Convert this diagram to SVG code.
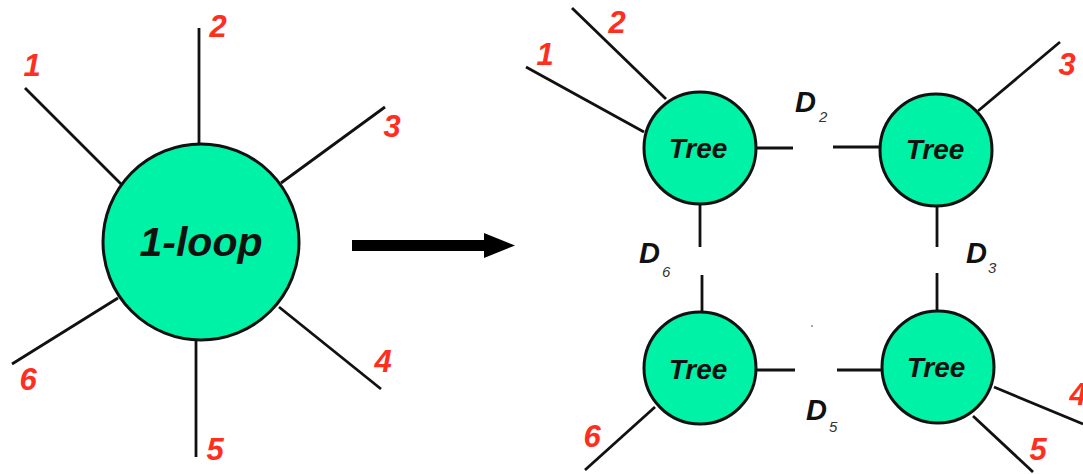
<svg xmlns="http://www.w3.org/2000/svg" width="1083" height="474" viewBox="0 0 1083 474">
<style>
.node{fill:#00F2A6;stroke:#111;stroke-width:3}
.edge{stroke:#111;stroke-width:2.8;fill:none;stroke-linecap:butt}
.lbl{font-family:"Liberation Sans",Arial,sans-serif;font-weight:bold;font-style:italic;fill:#FF2E1F;font-size:31px;text-anchor:middle}
.ntxt{font-family:"Liberation Sans",Arial,sans-serif;font-weight:bold;font-style:italic;fill:#111;text-anchor:middle}
.d{font-family:"Liberation Sans",Arial,sans-serif;font-weight:bold;font-style:italic;fill:#111;font-size:29px}
.sub{font-family:"Liberation Sans",Arial,sans-serif;font-style:italic;fill:#333;font-size:15px}
</style>
<rect width="1083" height="474" fill="#fff"/>
<g id="connectors">
  <line class="edge" x1="25" y1="88" x2="121" y2="184"/>
  <line class="edge" x1="199" y1="28" x2="199" y2="144"/>
  <line class="edge" x1="385" y1="107" x2="281" y2="183"/>
  <line class="edge" x1="279" y1="307" x2="381" y2="389"/>
  <line class="edge" x1="196" y1="341" x2="196" y2="457"/>
  <line class="edge" x1="118" y1="298" x2="12" y2="364"/>
  <line class="edge" x1="526" y1="67" x2="644" y2="132"/>
  <line class="edge" x1="572" y1="8" x2="666" y2="99"/>
  <line class="edge" x1="1060" y1="42" x2="978" y2="111"/>
  <line class="edge" x1="994" y1="387" x2="1083" y2="424"/>
  <line class="edge" x1="973" y1="416" x2="1033" y2="472"/>
  <line class="edge" x1="655" y1="407" x2="585" y2="470"/>
  <line class="edge" x1="756" y1="148" x2="793" y2="148"/>
  <line class="edge" x1="833" y1="147" x2="880" y2="147"/>
  <line class="edge" x1="756" y1="370" x2="795" y2="370"/>
  <line class="edge" x1="837" y1="370" x2="883" y2="370"/>
  <line class="edge" x1="700" y1="203" x2="700" y2="247"/>
  <line class="edge" x1="702" y1="275" x2="702" y2="313"/>
  <line class="edge" x1="937" y1="206" x2="937" y2="247"/>
  <line class="edge" x1="937" y1="273" x2="937" y2="311"/>
  <rect x="352" y="240" width="135" height="11" fill="#000"/>
  <polygon points="484,233 515,245.5 484,258" fill="#000"/>
</g>
<g id="loop">
  <circle class="node" cx="201" cy="242" r="98"/>
  <text class="ntxt" x="201" y="256" font-size="41">1-loop</text>
</g>
<g id="treeTL">
  <circle class="node" cx="700" cy="148" r="56"/>
  <text class="ntxt" x="698" y="158" font-size="28">Tree</text>
</g>
<g id="treeTR">
  <circle class="node" cx="936" cy="150" r="56"/>
  <text class="ntxt" x="935" y="159" font-size="28">Tree</text>
</g>
<g id="treeBL">
  <circle class="node" cx="700" cy="368" r="56"/>
  <text class="ntxt" x="698" y="379" font-size="28">Tree</text>
</g>
<g id="treeBR">
  <circle class="node" cx="938" cy="367" r="56"/>
  <text class="ntxt" x="936" y="377" font-size="28">Tree</text>
</g>
<g id="labels">
  <text class="lbl" x="32" y="76">1</text>
  <text class="lbl" x="218" y="37">2</text>
  <text class="lbl" x="392" y="137">3</text>
  <text class="lbl" x="383" y="372">4</text>
  <text class="lbl" x="215" y="460">5</text>
  <text class="lbl" x="28" y="390">6</text>
  <text class="lbl" x="545" y="65">1</text>
  <text class="lbl" x="617" y="33">2</text>
  <text class="lbl" x="1067" y="75">3</text>
  <text class="lbl" x="1078" y="405">4</text>
  <text class="lbl" x="1038" y="460">5</text>
  <text class="lbl" x="592" y="447">6</text>
  <text class="d" x="795" y="112">D</text><text class="sub" x="819" y="122">2</text>
  <text class="d" x="639" y="263">D</text><text class="sub" x="662" y="277">6</text>
  <text class="d" x="966" y="263">D</text><text class="sub" x="988" y="273">3</text>
  <text class="d" x="806" y="420">D</text><text class="sub" x="829" y="432">5</text>
</g>
<circle cx="812" cy="326" r="1" fill="#888"/>
</svg>
